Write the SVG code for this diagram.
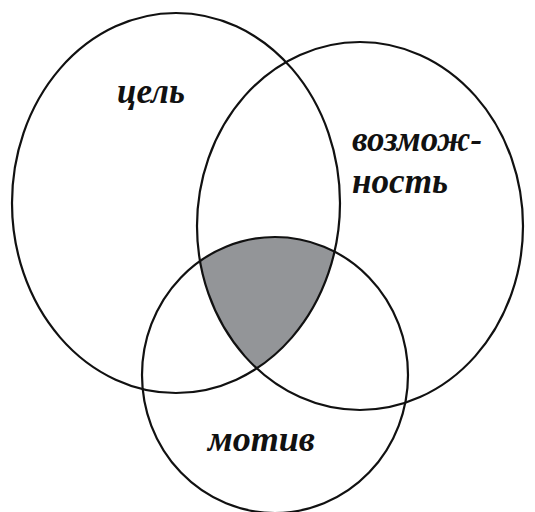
<svg xmlns="http://www.w3.org/2000/svg" width="535" height="512" viewBox="0 0 535 512">
<style>
.c{fill:none;stroke:#111;stroke-width:2.2}
.t{font-family:"Liberation Serif","DejaVu Serif",serif;font-style:italic;font-weight:bold;font-size:36px;fill:#111}
</style>
<defs>
<clipPath id="k1"><ellipse cx="176" cy="203" rx="164" ry="190"/></clipPath>
<clipPath id="k2"><ellipse cx="360" cy="226" rx="163" ry="184"/></clipPath>
</defs>
<rect width="535" height="512" fill="#fff"/>
<g id="shade" clip-path="url(#k1)"><g clip-path="url(#k2)"><ellipse cx="275" cy="375" rx="133" ry="138" fill="#939598"/></g></g>
<g id="connectors"></g>
<g id="goal"><ellipse class="c" cx="176" cy="203" rx="164" ry="190"/><text class="t" x="117" y="103" textLength="68" lengthAdjust="spacingAndGlyphs">цель</text></g>
<g id="opportunity"><ellipse class="c" cx="360" cy="226" rx="163" ry="184"/><text class="t" x="352" y="151" textLength="130" lengthAdjust="spacingAndGlyphs">возмож-</text><text class="t" x="352" y="193" textLength="96" lengthAdjust="spacingAndGlyphs">ность</text></g>
<g id="motive"><ellipse class="c" cx="275" cy="375" rx="133" ry="138"/><text class="t" x="208" y="451" textLength="107" lengthAdjust="spacingAndGlyphs">мотив</text></g>
</svg>
